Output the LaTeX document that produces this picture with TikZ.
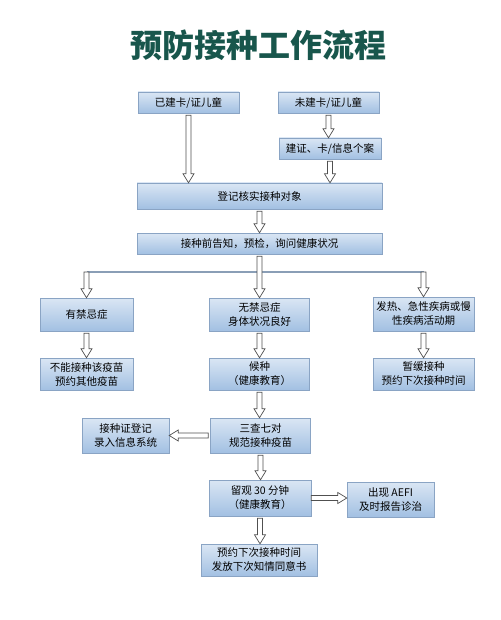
\documentclass[tikz,border=0pt]{standalone}
\usepackage{fontspec}
\newfontfamily\cjk{Noto Sans CJK SC}
\usetikzlibrary{calc}
\definecolor{boxtop}{RGB}{218,230,244}
\definecolor{boxbot}{RGB}{162,192,226}
\definecolor{boxline}{RGB}{138,164,196}
\definecolor{titlegreen}{RGB}{24,86,76}
\definecolor{arrowline}{RGB}{80,80,80}
\definecolor{splitline}{RGB}{138,158,182}

\begin{document}
\begin{tikzpicture}[
                x = 1pt, y = -1pt, % pixel grid, y downwards
                box/.style = {draw = boxline, top color = boxtop, bottom color = boxbot,
                    inner sep = 0pt, align = center, font = \cjk\fontsize{10.5}{14}\selectfont},
                hollow/.style = {draw = arrowline, fill = white, line width = 0.7pt,
                    to path = {($(\tikztostart)!2.5pt!90:(\tikztotarget)$)
                    -- ($(\tikztotarget)!9pt!(\tikztostart)!2.5pt!-90:(\tikztostart)$)
                    -- ($(\tikztotarget)!9pt!(\tikztostart)!5.5pt!-90:(\tikztostart)$)
                    -- (\tikztotarget)
                    -- ($(\tikztotarget)!9pt!(\tikztostart)!5.5pt!90:(\tikztostart)$)
                    -- ($(\tikztotarget)!9pt!(\tikztostart)!2.5pt!90:(\tikztostart)$)
                    -- ($(\tikztostart)!2.5pt!-90:(\tikztotarget)$) -- cycle}}
            ]

            \useasboundingbox (0,0) rectangle (500,620);

            \node (title) at (258,45) [text = titlegreen,
            font = \cjk\bfseries\fontsize{32}{36}\selectfont] {预防接种工作流程};

            \node (built) at (188.5,102.5) [box, minimum width = 101pt,
            minimum height = 21pt] {已建卡/证儿童}; \node (unbuilt) at
            (328.5,102.5) [box, minimum width = 101pt, minimum height = 21pt]
            {未建卡/证儿童}; \node (file) at (330,148.5) [box, minimum width =
            102pt, minimum height = 21pt] {建证、卡/信息个案};

            \node (check) at (259.5,196) [box, minimum width = 245pt, minimum
            height = 26pt] {登记核实接种对象}; \node (inform) at (259.5,243.5)
            [box, minimum width = 245pt, minimum height = 21pt]
            {接种前告知，预检，询问健康状况};

            \node (contra) at (86.5,314.5) [box, minimum width = 93pt, minimum
            height = 33pt] {有禁忌症}; \node (fine) at (259.5,314.5) [box,
            minimum width = 100pt, minimum height = 33pt] {无禁忌症\\身体状况良好};
            \node (fever) at (423.5,314) [box, minimum width = 101pt, minimum
            height = 34pt] {发热、急性疾病或慢\\性疾病活动期};

            \node (other) at (86.5,374) [box, minimum width = 93pt, minimum
            height = 32pt] {不能接种该疫苗\\预约其他疫苗}; \node (wait) at
            (259.5,374) [box, minimum width = 100pt, minimum height = 32pt]
            {候种\\（健康教育）}; \node (delay) at (423.5,374) [box, minimum
            width = 101pt, minimum height = 32pt] {暂缓接种\\预约下次接种时间};

            \node (verify) at (260.5,435.5) [box, minimum width = 100pt, minimum
            height = 35pt] {三查七对\\规范接种疫苗}; \node (record) at
            (125.5,435.5) [box, minimum width = 87pt, minimum height = 35pt]
            {接种证登记\\录入信息系统}; \node (observe) at (260,498) [box,
            minimum width = 102pt, minimum height = 36pt] {留观 30 分钟\\（健康教育）};
            \node (aefi) at (390.5,499.5) [box, minimum width = 87pt, minimum
            height = 35pt] {出现 AEFI\\及时报告诊治}; \node (next) at (259,560)
            [box, minimum width = 116pt, minimum height = 32pt]
            {预约下次接种时间\\发放下次知情同意书};

            \coordinate (split) at (259.5,272);
            \draw[splitline, line width = 1.4pt] (contra.north |- split) --
            (fever.north |- split);

            \path[hollow] ([yshift=-2pt]built.south) to (built.south |- check.north);
            \path[hollow] ([yshift=-2pt]unbuilt.south) to (unbuilt.south |- file.north);
            \path[hollow] ([yshift=-2pt]file.south) to (file.south |- check.north);
            \path[hollow] ([yshift=-2pt]check.south) to (inform.north);
            \path[hollow] ([yshift=-2pt]inform.south) to (fine.north);
            \path[hollow] (contra.north |- split) to (contra.north);
            \path[hollow] (fever.north |- split) to (fever.north);
            \path[hollow] ([yshift=-2pt]contra.south) to (other.north);
            \path[hollow] ([yshift=-2pt]fine.south) to (wait.north);
            \path[hollow] ([yshift=-2pt]fever.south) to (delay.north);
            \path[hollow] ([yshift=-2pt]wait.south) to (wait.south |- verify.north);
            \path[hollow] ([xshift=-2pt]verify.west) to (record.east |- verify.west);
            \path[hollow] ([yshift=-2pt]verify.south) to (verify.south |- observe.north);
            \path[hollow] (observe.east) to (aefi.west |- observe.east);
            \path[hollow] ([yshift=-2pt]observe.south) to (observe.south |- next.north);

        \end{tikzpicture}
\end{document}
